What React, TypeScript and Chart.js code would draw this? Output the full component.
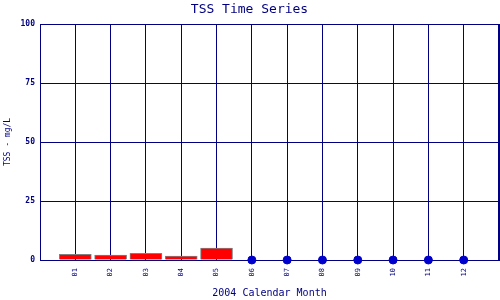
import { useEffect, useRef } from "react";
import { Chart, registerables } from "chart.js";

Chart.register(...registerables);

const monthLabels = ["01", "02", "03", "04", "05", "06", "07", "08", "09", "10", "11", "12"];
const barMonths = [1, 2, 3, 4, 5];
const barValues = [2.4, 2.1, 2.8, 1.7, 5.0];
const pointMonths = [6, 7, 8, 9, 10, 11, 12];
const pointValues = [0, 0, 0, 0, 0, 0, 0];
const yTickValues = [0, 25, 50, 75, 100];

const NAVY = "#000080";
const MONO = "'DejaVu Sans Mono', 'Liberation Mono', monospace";

export default function App() {
  const ref = useRef<HTMLCanvasElement | null>(null);

  useEffect(() => {
    document.body.style.margin = "0";
    const canvas = ref.current;
    if (!canvas) return;
    const chart = new Chart(canvas, {
      type: "bar",
      data: {
        datasets: [
          {
            type: "bar",
            data: barMonths.map((m, i) => ({ x: m, y: barValues[i] })),
            backgroundColor: "#ff0000",
            borderColor: "#808080",
            borderWidth: 1,
            barThickness: 32,
          } as any,
          {
            type: "scatter",
            data: pointMonths.map((m, i) => ({ x: m, y: pointValues[i] })),
            backgroundColor: "#0000cc",
            borderColor: "#0000cc",
            pointRadius: 4,
            pointHoverRadius: 4,
            clip: false,
          } as any,
        ],
      },
      options: {
        responsive: false,
        animation: false,
        events: [],
        layout: { autoPadding: false, padding: { left: 0, right: 1, top: 0, bottom: 0 } },
        plugins: {
          legend: { display: false },
          tooltip: { enabled: false },
          title: {
            display: true,
            text: "TSS Time Series",
            color: NAVY,
            font: { family: MONO, size: 13, weight: "normal" },
            padding: { top: 2, bottom: 6.4 },
          },
        },
        scales: {
          x: {
            type: "linear",
            min: 0,
            max: 13,
            offset: false,
            afterFit: (s: any) => {
              s.height = 40;
              s.paddingLeft = 0;
              s.paddingRight = 0;
            },
            ticks: {
              stepSize: 1,
              autoSkip: false,
              minRotation: 90,
              maxRotation: 90,
              padding: 8,
              color: NAVY,
              font: { family: MONO, size: 7 },
              callback: (v: any) => {
                const n = Number(v);
                return n >= 1 && n <= 12 ? monthLabels[n - 1] : "";
              },
            },
            grid: { color: NAVY, lineWidth: 1, drawTicks: false, offset: false },
            border: { display: true, color: NAVY, width: 1 },
            title: {
              display: true,
              text: "2004 Calendar Month",
              color: NAVY,
              font: { family: MONO, size: 10, weight: "normal" },
              padding: 1,
            },
          },
          y: {
            min: 0,
            max: 100,
            afterFit: (s: any) => {
              s.width = 40;
              s.paddingTop = 0;
              s.paddingBottom = 0;
            },
            afterBuildTicks: (s: any) => {
              s.ticks = yTickValues.map((v) => ({ value: v }));
            },
            ticks: {
              padding: 5,
              color: NAVY,
              font: { family: MONO, size: 8, weight: "bold" },
            },
            grid: { color: NAVY, lineWidth: 1, drawTicks: false },
            border: { display: true, color: NAVY, width: 1 },
            title: {
              display: true,
              text: "TSS - mg/L",
              color: NAVY,
              font: { family: MONO, size: 8, weight: "normal" },
              padding: 3,
            },
          },
        },
      },
      plugins: [
        {
          id: "rightBorder",
          afterDraw: (c: any) => {
            const { ctx, chartArea } = c;
            ctx.save();
            ctx.strokeStyle = NAVY;
            ctx.lineWidth = 1;
            ctx.beginPath();
            ctx.moveTo(Math.round(chartArea.right) - 0.5, chartArea.top);
            ctx.lineTo(Math.round(chartArea.right) - 0.5, chartArea.bottom);
            ctx.stroke();
            ctx.restore();
          },
        },
      ],
    });
    return () => chart.destroy();
  }, []);

  return (
    <div style={{ position: "absolute", left: 0, top: 0, width: 500, height: 300 }}>
      <canvas ref={ref} width={500} height={300} style={{ width: 500, height: 300 }} />
    </div>
  );
}
